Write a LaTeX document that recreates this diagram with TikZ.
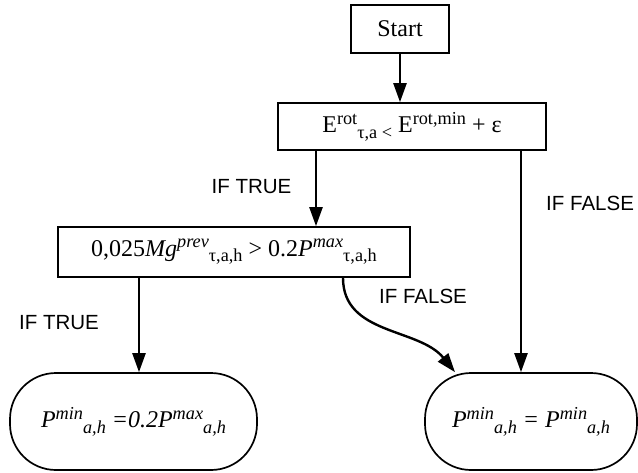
\documentclass[tikz,border=0pt]{standalone}
\usepackage{fontspec}
\setmainfont{Liberation Serif}
\newfontfamily\labelfont{Liberation Sans}
\usepackage{graphicx}
\usepackage{tikz}
\usetikzlibrary{arrows.meta,calc,positioning}
\newcommand{\supx}[1]{\raisebox{0.36em}{\scalebox{0.76}{#1}}}
\newcommand{\subx}[1]{\raisebox{-0.22em}{\scalebox{0.76}{#1}}}

\begin{document}
\begin{tikzpicture}[x=1pt,y=-1pt,>={Triangle[length=19pt,width=13pt]},
  box/.style={draw,line width=1.7pt,inner sep=0pt,font=\fontsize{24}{28}\selectfont},
  term/.style={box,rounded corners=46pt},
  lbl/.style={font=\labelfont\fontsize{20.5}{23}\selectfont},
  flow/.style={->,line width=2.4pt}]
\useasboundingbox (0,0) rectangle (638,472);
% boxes of the chart
\node[box,minimum width=98pt,minimum height=48pt] (start) at (400,29) {Start};
\node[box,minimum width=268pt,minimum height=47pt] (cond1) at (412,126.5)
  {E\supx{rot}\subx{τ,a <} E\supx{rot,min} + ε};
\node[box,minimum width=352pt,minimum height=50pt] (cond2) at (234,252)
  {0,025\textit{Mg}\supx{\textit{prev}}\subx{τ,a,h} > 0.2\textit{P}\supx{\textit{max}}\subx{τ,a,h}};
\node[term,minimum width=247pt,minimum height=97pt] (endl) at (133.5,421.5)
  {\textit{P\supx{min}\subx{a,h} =0.2P\supx{max}\subx{a,h}}};
\node[term,minimum width=212pt,minimum height=97pt] (endr) at (531,421.5)
  {\textit{P\supx{min}\subx{a,h} = P\supx{min}\subx{a,h}}};
% connectors
\coordinate (c1t) at ([xshift=-96pt]cond1.south);
\coordinate (c1f) at ([xshift=109pt]cond1.south);
\coordinate (c2t) at ([xshift=-95pt]cond2.south);
\coordinate (c2f) at ([xshift=109pt]cond2.south);
\coordinate (erin) at ([xshift=-76pt]endr.north);
\draw[flow] (start.south) -- (start.south |- cond1.north);
\draw[flow] (c1t) -- (c1t |- cond2.north);
\draw[flow] (c1f) -- (c1f |- endr.north);
\draw[flow] (c2t) -- (c2t |- endl.north);
\draw[flow] (c2f) to[out=-90,in=129] (erin);
% branch labels
\node[lbl] (t1lbl) at (251.5,187) {IF TRUE};
\node[lbl,anchor=east] (f1lbl) at (637.5,203) {IF FALSE};
\node[lbl] (f2lbl) at (423,296) {IF FALSE};
\node[lbl] (t2lbl) at (59,323) {IF TRUE};
\end{tikzpicture}
\end{document}
